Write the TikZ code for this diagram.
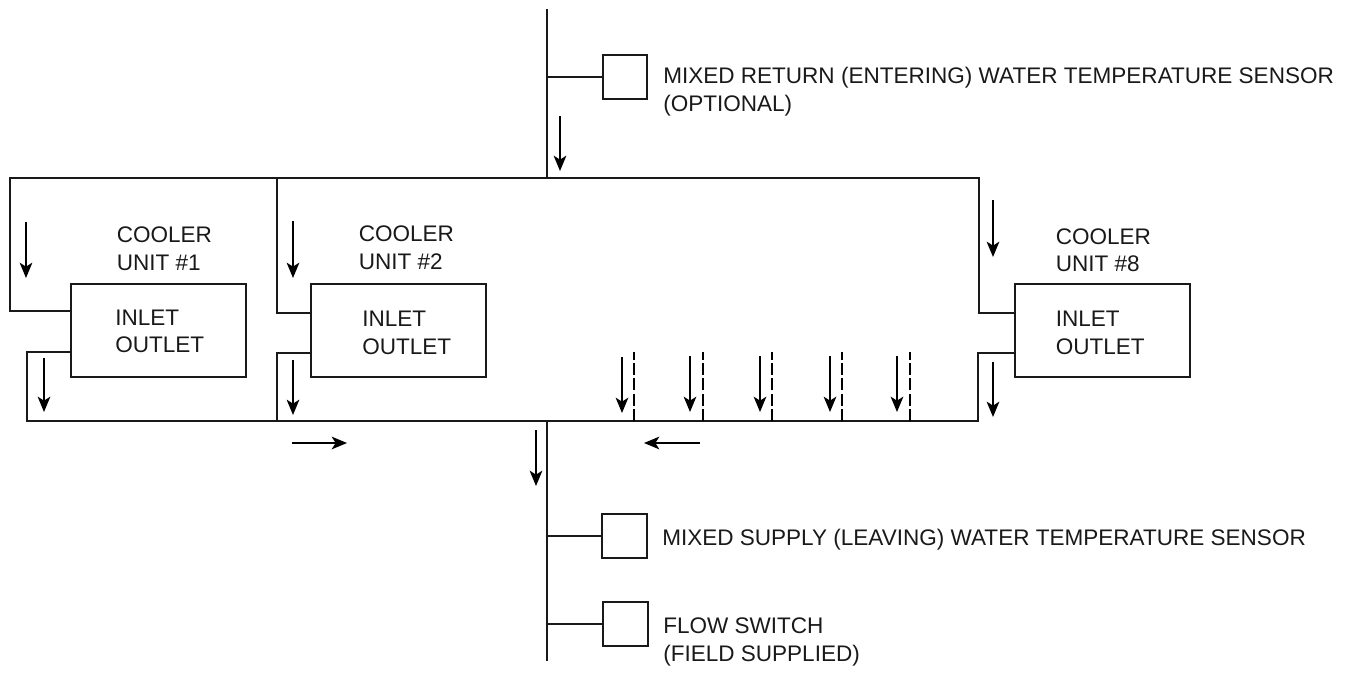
\documentclass[tikz,border=0pt]{standalone}
\usepackage{fontspec}
\setmainfont{Liberation Sans}
\usetikzlibrary{arrows.meta}
\tikzset{
  pipe/.style={line width=1.4pt,black!90,line join=miter},
  flow/.style={line width=1.3pt,black,-{Stealth[length=11.5pt,width=9.5pt,inset=3pt]}},
  dashpipe/.style={line width=1.1pt,black,dash pattern=on 9pt off 2.5pt},
  unitbox/.style={draw,line width=1.4pt,black!90,minimum width=131pt,minimum height=70pt,inner sep=0pt},
  sensorbox/.style={draw,line width=1.4pt,black!90,minimum width=33.5pt,minimum height=33.5pt,inner sep=0pt},
  lbl/.style={anchor=base west,inner sep=0pt,font=\fontsize{16.9pt}{20pt}\selectfont,text=black!90}
}
\begin{document}
\begin{tikzpicture}[x=0.75pt,y=-0.75pt]
\useasboundingbox (0,0) rectangle (1348,688);
% unit boxes
\node[unitbox] (u1) at (158.5,330.5) {};
\node[unitbox] (u2) at (398.5,330.5) {};
\node[unitbox] (u8) at (1102.5,330.5) {};
% sensor boxes
\node[sensorbox] (s1) at (625,77) {};
\node[sensorbox] (s2) at (624.3,536) {};
\node[sensorbox] (s3) at (625.5,624) {};
% junctions
\coordinate (topL) at (10,178);
\coordinate (topM) at (277,178);
\coordinate (topC) at (547,178);
\coordinate (topR) at (979,178);
\coordinate (botL) at (27,421);
\coordinate (botM) at (277,421);
\coordinate (botC) at (547,421);
\coordinate (botR) at (978,421);
\coordinate (mainT) at (547,9);
\coordinate (mainB) at (547,661);
\coordinate (in1) at (71,311);
\coordinate (out1) at (71,352);
\coordinate (in2) at (311,313);
\coordinate (out2) at (311,353);
\coordinate (in8) at (1015,313);
\coordinate (out8) at (1015,353);
% main pipes
\draw[pipe] (mainT) -- (topC);
\draw[pipe] (botC) -- (mainB);
\draw[pipe] (in1) -| (topL) -- (topR) |- (in8);
\draw[pipe] (topM) |- (in2);
\draw[pipe] (out1) -| (botL) -- (botR) |- (out8);
\draw[pipe] (botM) |- (out2);
% sensor stubs
\draw[pipe] (mainT |- s1.west) -- (s1.west);
\draw[pipe] (mainT |- s2.west) -- (s2.west);
\draw[pipe] (mainT |- s3.west) -- (s3.west);
% dashed branches
\foreach \n/\x in {a/634,b/703,c/772,d/842,e/910}{
  \coordinate (dt\n) at (\x,352);
  \coordinate (db\n) at (\x,421);
  \draw[dashpipe] (db\n) -- (dt\n);
}
% flow arrows
\foreach \n/\xa/\ya/\yb in {f1/26/222/278,f2/44/358/412,f3/293/221/278,f4/293/360/415,f5/993/200/257,f6/993/362/417,f7/560/116/171,f8/536/430/486,f9/622/357/413,f10/690/356/412,f11/760/356/412,f12/830/356/412,f13/897/356/412}{
  \coordinate (\n a) at (\xa,\ya);
  \coordinate (\n b) at (\xa,\yb);
  \draw[flow] (\n a) -- (\n b);
}
\coordinate (h1a) at (292,443);
\coordinate (h1b) at (347,443);
\coordinate (h2a) at (700,443);
\coordinate (h2b) at (644,443);
\draw[flow] (h1a) -- (h1b);
\draw[flow] (h2a) -- (h2b);
% labels
\node[lbl] (t1) at (116.5,242.7) {COOLER};
\node[lbl] (t2) at (116.5,270.7) {UNIT \#1};
\node[lbl] (t3) at (115,325) {INLET};
\node[lbl] (t4) at (115,352.7) {OUTLET};
\node[lbl] (t5) at (358.5,241.7) {COOLER};
\node[lbl] (t6) at (358.5,269.7) {UNIT \#2};
\node[lbl] (t7) at (362,326) {INLET};
\node[lbl] (t8) at (362,354) {OUTLET};
\node[lbl] (t9) at (1055.5,244) {COOLER};
\node[lbl] (t10) at (1055.5,271.7) {UNIT \#8};
\node[lbl] (t11) at (1055.5,326) {INLET};
\node[lbl] (t12) at (1055.5,354) {OUTLET};
\node[lbl] (t13) at (663,83.5) {MIXED RETURN (ENTERING) WATER TEMPERATURE SENSOR};
\node[lbl] (t14) at (663,111.7) {(OPTIONAL)};
\node[lbl] (t15) at (662,545.7) {MIXED SUPPLY (LEAVING) WATER TEMPERATURE SENSOR};
\node[lbl] (t16) at (663,633) {FLOW SWITCH};
\node[lbl] (t17) at (663,661.7) {(FIELD SUPPLIED)};
\end{tikzpicture}
\end{document}
